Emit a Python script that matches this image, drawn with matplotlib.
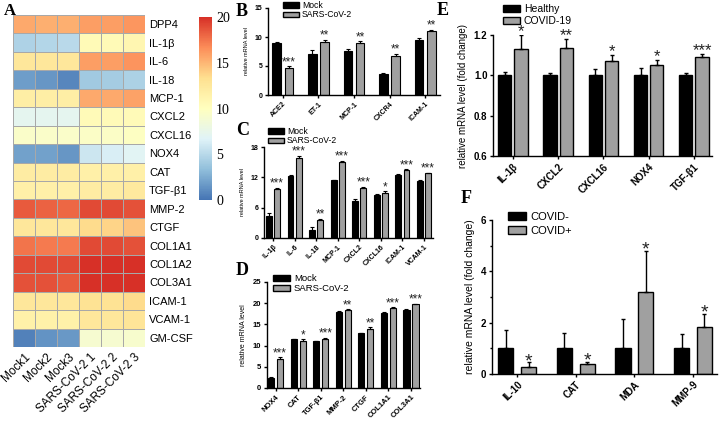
import matplotlib
matplotlib.use('Agg')
import matplotlib.pyplot as plt
import numpy as np
from matplotlib.colors import LinearSegmentedColormap, Normalize
from matplotlib.patches import Patch
import matplotlib.colorbar as mcolorbar

plt.rcParams['font.family'] = ['Liberation Sans', 'DejaVu Sans']

W, H = 720, 421

# ---- A: heatmap data ----
genes = ['DPP4', 'IL-1β', 'IL-6', 'IL-18', 'MCP-1', 'CXCL2', 'CXCL16', 'NOX4', 'CAT',
         'TGF-β1', 'MMP-2', 'CTGF', 'COL1A1', 'COL1A2', 'COL3A1', 'ICAM-1', 'VCAM-1', 'GM-CSF']
samples = ['Mock1', 'Mock2', 'Mock3', 'SARS-CoV-2 1', 'SARS-CoV-2 2', 'SARS-CoV-2 3']
heat = [
    [15.5, 15.3, 15.3, 16.0, 16.0, 16.3],
    [4.6, 4.8, 5.0, 10.6, 10.6, 11.0],
    [12.5, 12.5, 12.5, 16.0, 16.0, 16.4],
    [1.8, 1.5, 0.8, 4.0, 4.2, 4.5],
    [11.8, 11.8, 11.8, 15.5, 15.5, 15.8],
    [7.2, 7.2, 7.2, 10.5, 10.5, 10.5],
    [9.4, 9.4, 9.4, 9.6, 9.6, 9.8],
    [2.0, 2.0, 1.5, 5.8, 6.4, 6.9],
    [12.0, 12.0, 12.0, 11.6, 11.6, 11.6],
    [11.6, 11.6, 11.6, 12.0, 12.0, 12.3],
    [18.5, 18.2, 18.0, 19.0, 19.0, 18.8],
    [12.5, 12.5, 12.5, 13.5, 13.8, 14.5],
    [17.5, 17.3, 17.3, 19.0, 19.0, 18.8],
    [19.0, 19.0, 19.0, 20.0, 20.0, 20.0],
    [18.8, 18.8, 18.5, 20.0, 20.0, 20.0],
    [12.5, 12.5, 12.5, 13.0, 13.0, 13.5],
    [11.5, 11.5, 11.5, 12.5, 12.5, 12.8],
    [0.6, 1.4, 1.6, 9.0, 9.0, 9.2],
]

# ---- B ----
b_cats = ['ACE2', 'ET-1', 'MCP-1', 'CXCR4', 'ICAM-1']
b_mock = [8.9, 7.1, 7.6, 3.7, 9.4]
b_mock_err = [0.3, 0.6, 0.4, 0.15, 0.45]
b_cov = [4.7, 9.2, 9.0, 6.8, 11.1]
b_cov_err = [0.25, 0.3, 0.25, 0.35, 0.15]
b_stars = ['***', '**', '**', '**', '**']

# ---- C ----
c_cats = ['IL-1β', 'IL-6', 'IL-18', 'MCP-1', 'CXCL2', 'CXCL16', 'ICAM-1', 'VCAM-1']
c_mock = [4.4, 12.3, 1.5, 11.4, 7.4, 8.6, 12.5, 11.3]
c_mock_err = [0.5, 0.1, 0.6, 0.1, 0.3, 0.1, 0.1, 0.1]
c_cov = [9.6, 15.9, 3.5, 15.0, 9.9, 8.9, 13.5, 12.8]
c_cov_err = [0.3, 0.4, 0.3, 0.3, 0.2, 0.3, 0.1, 0.1]
c_stars = ['***', '***', '**', '***', '***', '*', '***', '***']

# ---- D ----
d_cats = ['NOX4', 'CAT', 'TGF-β1', 'MMP-2', 'CTGF', 'COL1A1', 'COL3A1']
d_mock = [2.3, 11.5, 11.0, 18.0, 12.9, 17.7, 18.5]
d_mock_err = [0.4, 0.1, 0.1, 0.1, 0.1, 0.2, 0.1]
d_cov = [6.9, 11.2, 11.6, 18.4, 14.0, 18.9, 19.7]
d_cov_err = [0.4, 0.3, 0.3, 0.2, 0.4, 0.2, 0.2]
d_stars = ['***', '*', '***', '**', '**', '***', '***']

# ---- E ----
e_cats = ['IL-1β', 'CXCL2', 'CXCL16', 'NOX4', 'TGF-β1']
e_healthy = [1.0, 1.0, 1.0, 1.0, 1.0]
e_healthy_err = [0.015, 0.01, 0.03, 0.035, 0.01]
e_covid = [1.13, 1.135, 1.07, 1.05, 1.09]
e_covid_err = [0.07, 0.045, 0.03, 0.025, 0.015]
e_stars = ['*', '**', '*', '*', '***']

# ---- F ----
f_cats = ['IL-10', 'CAT', 'MDA', 'MMP-9']
f_neg = [1.0, 1.0, 1.0, 1.0]
f_neg_err = [0.7, 0.58, 1.13, 0.57]
f_pos = [0.27, 0.38, 3.2, 1.85]
f_pos_err = [0.18, 0.1, 1.6, 0.5]
f_stars = ['*', '*', '*', '*']

fig = plt.figure(figsize=(W / 100, H / 100), dpi=100)


def px_axes(x0, y0, x1, y1):
    return fig.add_axes([x0 / W, 1 - y1 / H, (x1 - x0) / W, (y1 - y0) / H])


def letter(x, y, s, size=13):
    fig.text(x / W, 1 - y / H, s, fontsize=size, fontweight='bold',
             family='Liberation Serif', va='top', ha='left')


def bar_panel(ax, cats, v1, e1, v2, e2, stars, ylim, yticks, xlim, width, off,
              tick_fs, star_fs, ylabel, ylabel_fs, star_pad, lw=0.8):
    x = np.arange(len(cats))
    ax.bar(x - off, v1, width, color='black', edgecolor='black', linewidth=lw)
    ax.bar(x + off, v2, width, color='#a0a0a0', edgecolor='black', linewidth=lw)
    z = np.zeros(len(cats))
    ax.errorbar(x - off, v1, yerr=[z, e1], fmt='none', ecolor='black', elinewidth=lw,
                capsize=width * 6, capthick=lw)
    ax.errorbar(x + off, v2, yerr=[z, e2], fmt='none', ecolor='black', elinewidth=lw,
                capsize=width * 6, capthick=lw)
    for xi, v, e, s in zip(x, v2, e2, stars):
        ax.text(xi + off, v + e + star_pad, s, ha='center', va='bottom',
                fontsize=star_fs, color='#222222')
    ax.set_xlim(xlim)
    ax.set_ylim(ylim)
    ax.set_yticks(yticks)
    ax.set_xticks(x)
    ax.set_xticklabels(cats, rotation=45, ha='right', rotation_mode='anchor',
                       fontsize=tick_fs, fontweight='bold')
    for t in ax.get_yticklabels():
        t.set_fontsize(tick_fs)
        t.set_fontweight('bold')
    ax.set_ylabel(ylabel, fontsize=ylabel_fs)
    for s in ['top', 'right']:
        ax.spines[s].set_visible(False)
    for s in ['left', 'bottom']:
        ax.spines[s].set_linewidth(1.0)
    ax.tick_params(length=2.5, width=1.0, pad=1.5)


def legend(x, y, labels, fs, hl, hh, spacing):
    handles = [Patch(facecolor='black', edgecolor='black'),
               Patch(facecolor='#a0a0a0', edgecolor='black')]
    fig.legend(handles, labels, loc='upper left', bbox_to_anchor=(x / W, 1 - y / H),
               frameon=False, fontsize=fs, handlelength=hl, handleheight=hh,
               handletextpad=0.4, borderpad=0, borderaxespad=0, labelspacing=spacing)


# ---- A ----
cmap = LinearSegmentedColormap.from_list(
    'pheat', ['#4575B4', '#91BFDB', '#E0F3F8', '#FFFFBF', '#FEE090', '#FC8D59', '#D73027'])
norm = Normalize(0, 20)
axA = px_axes(13, 15, 145, 347)
axA.pcolormesh(np.array(heat), cmap=cmap, norm=norm, edgecolors='#a8a8a8', linewidth=0.6)
axA.set_xlim(0, len(samples))
axA.set_ylim(len(genes), 0)
axA.set_xticks(np.arange(len(samples)) + 0.5)
axA.set_xticklabels(samples, rotation=45, ha='right', rotation_mode='anchor', fontsize=8.5)
axA.set_yticks(np.arange(len(genes)) + 0.5)
axA.set_yticklabels(genes, fontsize=8)
axA.yaxis.tick_right()
axA.tick_params(length=0, pad=3)
for s in axA.spines.values():
    s.set_visible(False)

axCb = px_axes(199, 17, 212, 200)
cb = mcolorbar.ColorbarBase(axCb, cmap=cmap, norm=norm, ticks=[0, 5, 10, 15, 20])
cb.outline.set_visible(False)
axCb.tick_params(length=0, pad=3)
for t in axCb.get_yticklabels():
    t.set_fontsize(10)
    t.set_family('Liberation Serif')

letter(4, 3, 'A', 12)

# ---- B ----
axB = px_axes(268, 8, 440, 95)
bar_panel(axB, b_cats, b_mock, b_mock_err, b_cov, b_cov_err, b_stars,
          (0, 15), [0, 5, 10, 15], (-0.42, 4.42), 0.25, 0.17,
          5, 8.5, 'relative mRNA level', 4, -0.3)
letter(236, 3, 'B', 13)
legend(283, 1, ['Mock', 'SARS-CoV-2'], 6.2, 1.8, 0.6, 0.05)

# ---- C ----
axC = px_axes(264, 147, 433, 238)
bar_panel(axC, c_cats, c_mock, c_mock_err, c_cov, c_cov_err, c_stars,
          (0, 18), [0, 6, 12, 18], (-0.42, 7.42), 0.27, 0.19,
          5, 8.5, 'relative mRNA level', 4, -0.35)
letter(236, 122, 'C', 13)
legend(268, 127, ['Mock', 'SARS-CoV-2'], 6.2, 1.8, 0.6, 0.05)

# ---- D ----
axD = px_axes(267, 282, 420, 388)
bar_panel(axD, d_cats, d_mock, d_mock_err, d_cov, d_cov_err, d_stars,
          (0, 25), [0, 5, 10, 15, 20, 25], (-0.38, 6.4), 0.27, 0.2,
          5.5, 8.5, 'relative mRNA level', 5, -0.5)
letter(236, 262, 'D', 13)
legend(273, 274, ['Mock', 'SARS-CoV-2'], 6.8, 1.8, 0.6, 0.12)

# ---- E ----
axE = px_axes(493, 35, 712, 156)
bar_panel(axE, e_cats, e_healthy, e_healthy_err, e_covid, e_covid_err, e_stars,
          (0.6, 1.2), [0.6, 0.8, 1.0, 1.2], (-0.44, 4.4), 0.29, 0.18,
          7, 12, 'relative mRNA level (fold change)', 7, -0.018, lw=1.0)
letter(437, 2, 'E', 13)
legend(503, 4, ['Healthy', 'COVID-19'], 7.5, 1.6, 0.7, 0.2)

# ---- F ----
axF = px_axes(492, 220, 717, 374)
bar_panel(axF, f_cats, f_neg, f_neg_err, f_pos, f_pos_err, f_stars,
          (0, 6), [0, 2, 4, 6], (-0.43, 3.41), 0.26, 0.195,
          7, 14, 'relative mRNA level (fold change)', 7.5, -0.3, lw=1.0)
axF.set_yticks([1, 3, 5], minor=True)
axF.tick_params(which='minor', length=1.5, width=1.0)
letter(461, 190, 'F', 13)
legend(508, 212, ['COVID-', 'COVID+'], 8, 1.6, 0.7, 0.35)

fig.savefig('out.png', dpi=100, facecolor='white')
